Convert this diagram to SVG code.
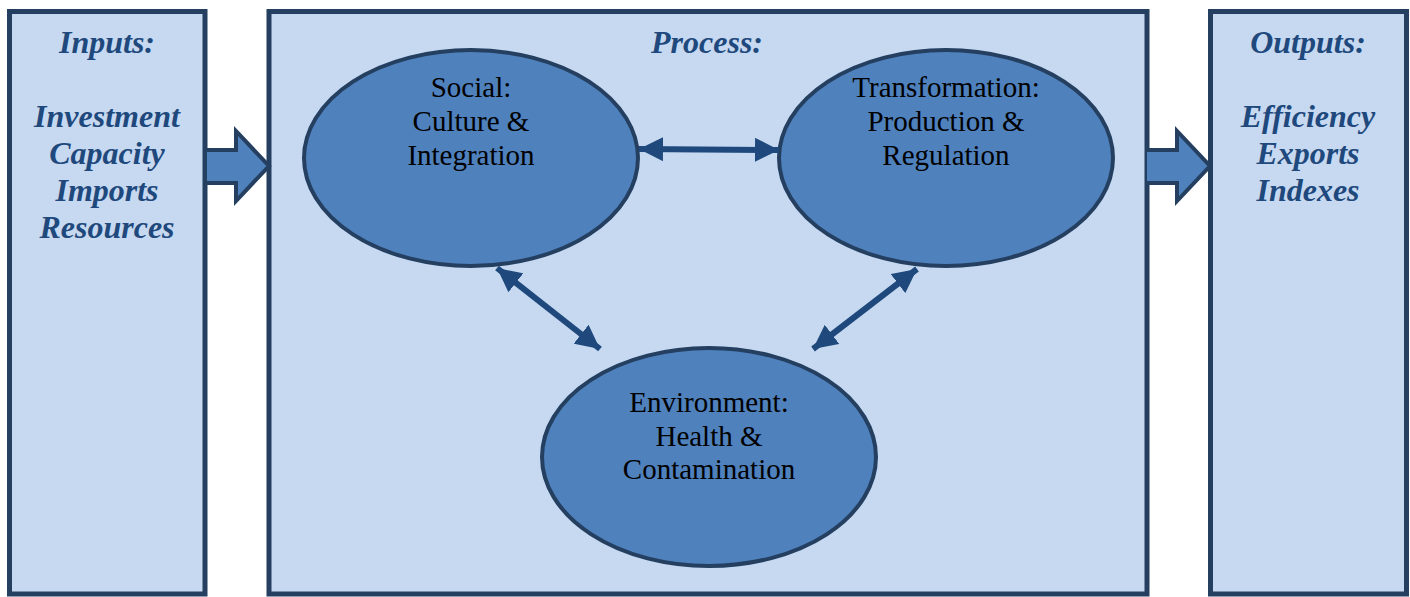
<svg xmlns="http://www.w3.org/2000/svg" width="1410" height="597" viewBox="0 0 1410 597">
  <style>
    .panel { fill: #C6D9F1; stroke: #243F60; stroke-width: 5; }
    .bubble { fill: #4F81BD; stroke: #243F60; stroke-width: 4; }
    .block { fill: #4F81BD; stroke: #243F60; stroke-width: 4; stroke-linejoin: miter; }
    .link { stroke: #1F497D; stroke-width: 6; fill: none; }
    .head { fill: #1F497D; }
    .title { font-family: "Liberation Serif", "Times New Roman", serif; font-style: italic; font-weight: bold; font-size: 32px; fill: #1F497D; text-anchor: middle; }
    .label { font-family: "Liberation Serif", "Times New Roman", serif; font-size: 29px; fill: #000; text-anchor: middle; }
  </style>
  <defs>
    <marker id="tip" viewBox="0 0 10 10" refX="10" refY="5" markerWidth="4" markerHeight="4" markerUnits="strokeWidth" orient="auto-start-reverse">
      <path d="M0,0 L10,5 L0,10 Z" class="head"/>
    </marker>
  </defs>

  <rect width="1410" height="597" fill="#FFFFFF"/>

  <!-- Inputs panel -->
  <g id="inputs">
    <rect class="panel" x="9.5" y="11.5" width="195.5" height="582.5"/>
    <text class="title" x="107" y="53">Inputs:</text>
    <text class="title" x="107" y="127">Investment</text>
    <text class="title" x="107" y="164">Capacity</text>
    <text class="title" x="107" y="201">Imports</text>
    <text class="title" x="107" y="238">Resources</text>
  </g>

  <!-- Process panel -->
  <g id="process">
    <rect class="panel" x="269" y="11.5" width="878" height="582.5"/>
    <text class="title" x="707" y="53">Process:</text>
  </g>

  <!-- Outputs panel -->
  <g id="outputs">
    <rect class="panel" x="1210.5" y="11.5" width="196" height="582.5"/>
    <text class="title" x="1308" y="53">Outputs:</text>
    <text class="title" x="1308" y="127">Efficiency</text>
    <text class="title" x="1308" y="164">Exports</text>
    <text class="title" x="1308" y="201">Indexes</text>
  </g>

  <!-- Process bubbles -->
  <g id="social">
    <ellipse class="bubble" cx="471" cy="158" rx="167" ry="108"/>
    <text class="label" x="471" y="97">Social:</text>
    <text class="label" x="471" y="131">Culture &amp;</text>
    <text class="label" x="471" y="165">Integration</text>
  </g>
  <g id="transformation">
    <ellipse class="bubble" cx="946" cy="158" rx="167" ry="108"/>
    <text class="label" x="946" y="97">Transformation:</text>
    <text class="label" x="946" y="131">Production &amp;</text>
    <text class="label" x="946" y="165">Regulation</text>
  </g>
  <g id="environment">
    <ellipse class="bubble" cx="709" cy="457" rx="167" ry="109"/>
    <text class="label" x="709" y="412">Environment:</text>
    <text class="label" x="709" y="446">Health &amp;</text>
    <text class="label" x="709" y="479">Contamination</text>
  </g>

  <!-- Connectors -->
  <g id="connectors">
    <!-- block arrows between panels -->
    <path class="block" d="M207,150 L236,150 L236,131 L269,166 L236,201 L236,183 L207,183"/>
    <path class="block" d="M1147,150 L1177,150 L1177,131 L1210,166 L1177,201 L1177,183 L1147,183"/>
    <!-- two-way links between bubbles -->
    <line class="link" x1="639" y1="149" x2="779" y2="150" marker-start="url(#tip)" marker-end="url(#tip)"/>
    <line class="link" x1="497" y1="268" x2="600" y2="349" marker-start="url(#tip)" marker-end="url(#tip)"/>
    <line class="link" x1="917" y1="269" x2="813" y2="349" marker-start="url(#tip)" marker-end="url(#tip)"/>
  </g>
</svg>
